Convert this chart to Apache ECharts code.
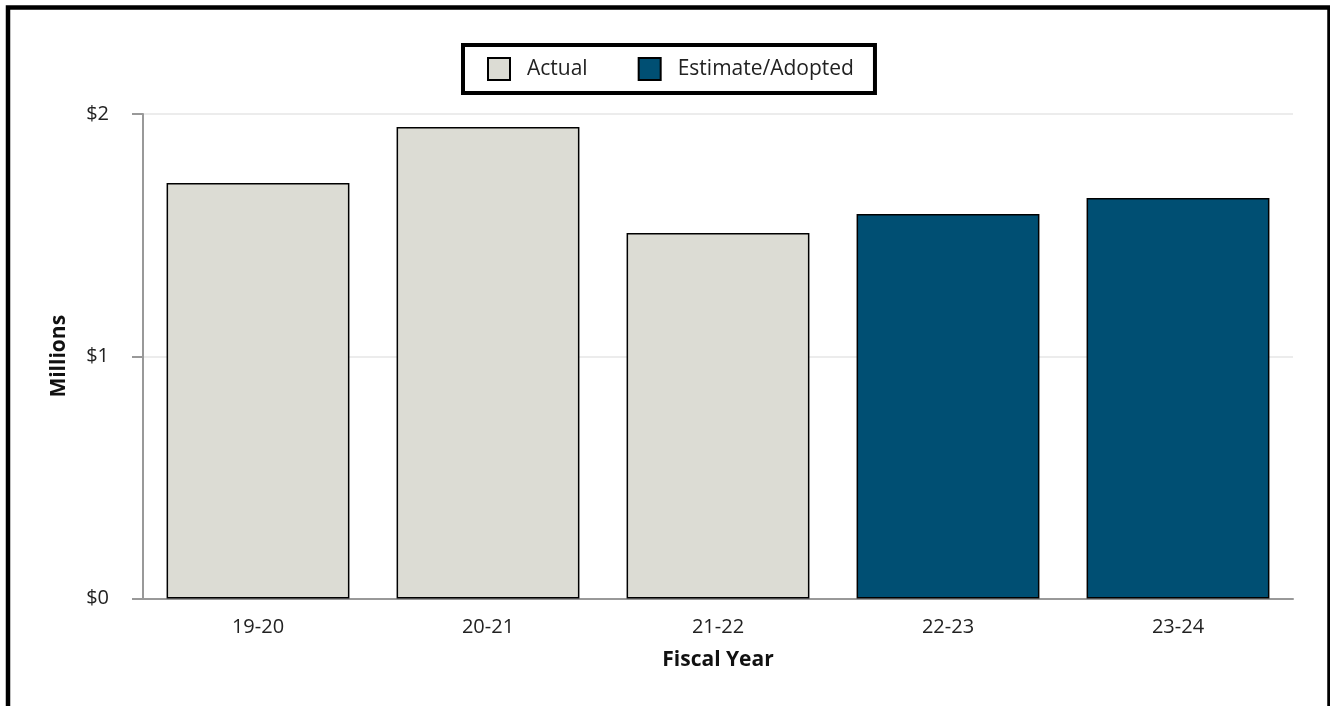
<!DOCTYPE html>
<html>
<head>
<meta charset="utf-8">
<script src="https://cdn.jsdelivr.net/npm/echarts@6/dist/echarts.min.js"></script>
<style>
html,body{margin:0;padding:0;background:#fff;}
#chart{width:1330px;height:706px;}
</style>
</head>
<body>
<div id="chart"></div>
<script>
const categories = ['19-20', '20-21', '21-22', '22-23', '23-24'];
const actualValues = [1.715, 1.946, 1.509, '-', '-'];
const estimateValues = ['-', '-', '-', 1.587, 1.653];
const yTickLabels = {0: '$0', 1: '$1', 2: '$2'};

const FONT = '"Open Sans", "Noto Sans", sans-serif';
const chart = echarts.init(document.getElementById('chart'), null, {renderer: 'canvas'});
chart.setOption({
  animation: false,
  backgroundColor: '#fff',
  textStyle: {fontFamily: FONT},
  graphic: [{
    type: 'rect', silent: true, z: 100,
    shape: {x: 8, y: 7.5, width: 1321.5, height: 800},
    style: {fill: 'none', stroke: '#000', lineWidth: 4.5}
  }],
  legend: {
    left: 463, top: 45,
    padding: [12, 21, 12, 24],
    itemGap: 50,
    itemWidth: 22, itemHeight: 22,
    icon: 'rect',
    borderColor: '#000', borderWidth: 4,
    backgroundColor: '#fff',
    textStyle: {fontFamily: FONT, fontSize: 21, color: '#222', padding: [0, 0, 0, 12]},
    data: ['Actual', 'Estimate/Adopted']
  },
  grid: {left: 143, right: 37, top: 114, bottom: 107.5},
  xAxis: {
    type: 'category',
    data: categories,
    name: 'Fiscal Year',
    nameLocation: 'middle',
    nameGap: 51,
    nameTextStyle: {fontFamily: FONT, fontSize: 21, fontWeight: 'bold', color: '#111'},
    axisLine: {lineStyle: {color: '#999', width: 2}},
    axisTick: {length: 11, lineStyle: {color: '#999', width: 2}},
    axisLabel: {fontFamily: FONT, fontSize: 20, color: '#222', margin: 19}
  },
  yAxis: {
    type: 'value',
    min: 0, max: 2, interval: 1,
    name: 'Millions',
    nameLocation: 'middle',
    nameGap: 73,
    nameTextStyle: {fontFamily: FONT, fontSize: 21, fontWeight: 'bold', color: '#111'},
    axisLine: {show: true, lineStyle: {color: '#999', width: 2}},
    axisTick: {show: true, length: 11, lineStyle: {color: '#999', width: 2}},
    splitLine: {lineStyle: {color: '#e6e6e6', width: 1.5}},
    axisLabel: {fontFamily: FONT, fontSize: 20, color: '#222', margin: 34,
      formatter: v => yTickLabels[v] !== undefined ? yTickLabels[v] : ''}
  },
  series: [
    {
      name: 'Actual', type: 'bar', data: actualValues,
      barGap: '-100%', barCategoryGap: '20.5%',
      itemStyle: {color: '#dcdcd4', borderColor: '#000', borderWidth: 1.5}
    },
    {
      name: 'Estimate/Adopted', type: 'bar', data: estimateValues,
      barGap: '-100%', barCategoryGap: '20.5%',
      itemStyle: {color: '#004f73', borderColor: '#000', borderWidth: 1.5}
    }
  ]
});
</script>
</body>
</html>
